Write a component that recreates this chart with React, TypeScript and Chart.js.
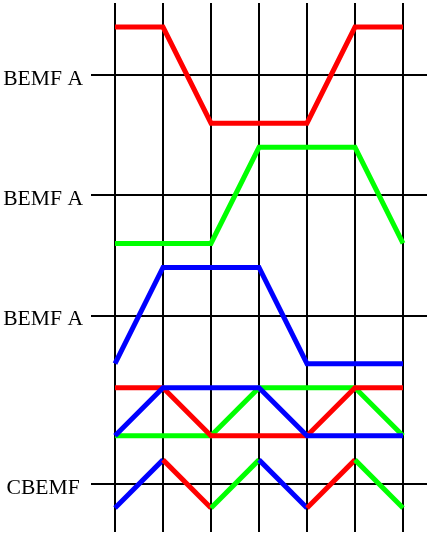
import React, { useEffect, useRef } from "react";
import { Chart, registerables } from "chart.js";

Chart.register(...registerables);

// Commutation steps (electrical sectors) along the horizontal axis
const STEPS = [0, 1, 2, 3, 4, 5, 6];

// Normalised back-EMF of each phase at every step (+1 high, -1 low)
const BEMF_RED = [1, 1, -1, -1, -1, 1, 1];
const BEMF_GREEN = [-1, -1, -1, 1, 1, 1, -1];
const BEMF_BLUE = [-1, 1, 1, 1, -1, -1, -1];

// Combined back-EMF zig-zag and the phase colour of each segment
const CBEMF = [-1, 1, -1, 1, -1, 1, -1];
const CBEMF_SEGMENT_COLORS = ["#0000ff", "#ff0000", "#00ff00", "#0000ff", "#ff0000", "#00ff00"];

// Row baselines and their labels
const ROW_BASES = [9.5, 7, 4.5, 1];
const ROW_LABELS = ["BEMF A", "BEMF A", "BEMF A", "CBEMF"];
const OVERLAY_BASE = 2.5;

const RED = "#ff0000";
const GREEN = "#00ff00";
const BLUE = "#0000ff";

function trace(values: number[], base: number, amp: number) {
  return STEPS.map((s, i) => ({ x: s, y: base + values[i] * amp }));
}

export default function App() {
  const ref = useRef<HTMLCanvasElement | null>(null);

  useEffect(() => {
    if (!ref.current) return;
    const lineStyle = {
      borderWidth: 5,
      pointRadius: 0,
      tension: 0,
      fill: false,
      borderJoinStyle: "miter" as const,
      borderCapStyle: "butt" as const,
    };
    const chart = new Chart(ref.current, {
      type: "line",
      data: {
        datasets: [
          { ...lineStyle, data: trace(BEMF_RED, ROW_BASES[0], 1), borderColor: RED, order: 1 },
          { ...lineStyle, data: trace(BEMF_GREEN, ROW_BASES[1], 1), borderColor: GREEN, order: 2 },
          { ...lineStyle, data: trace(BEMF_BLUE, ROW_BASES[2], 1), borderColor: BLUE, order: 0 },
          { ...lineStyle, data: trace(BEMF_RED, OVERLAY_BASE, 0.5), borderColor: RED, order: 1 },
          { ...lineStyle, data: trace(BEMF_GREEN, OVERLAY_BASE, 0.5), borderColor: GREEN, order: 2 },
          { ...lineStyle, data: trace(BEMF_BLUE, OVERLAY_BASE, 0.5), borderColor: BLUE, order: 0 },
          {
            ...lineStyle,
            data: trace(CBEMF, ROW_BASES[3], 0.5),
            borderColor: BLUE,
            segment: {
              borderColor: (ctx: any) => CBEMF_SEGMENT_COLORS[ctx.p0DataIndex],
            },
            order: 0,
          },
        ],
      },
      options: {
        responsive: false,
        animation: false,
        events: [],
        layout: { padding: { top: 3, right: 3, bottom: 1, left: 0 } },
        plugins: { legend: { display: false }, tooltip: { enabled: false } },
        scales: {
          x: {
            type: "linear",
            min: -0.5,
            max: 6.5,
            border: { display: false },
            grid: { color: "#000", lineWidth: 2, drawTicks: false },
            ticks: { display: false },
            afterBuildTicks: (axis: any) => {
              axis.ticks = STEPS.map((v) => ({ value: v }));
            },
            afterFit: (axis: any) => {
              axis.height = 0;
              axis.paddingLeft = 0;
              axis.paddingRight = 0;
            },
          },
          y: {
            type: "linear",
            min: 0,
            max: 11,
            border: { display: false },
            grid: { color: "#000", lineWidth: 2, drawTicks: false },
            ticks: {
              color: "#000",
              crossAlign: "center",
              padding: 8,
              labelOffset: 4,
              font: { family: "'Liberation Serif', 'Times New Roman', serif", size: 21.6 },
              callback: (v: any) => {
                const i = ROW_BASES.indexOf(Number(v));
                return i >= 0 ? ROW_LABELS[i] : "";
              },
            },
            afterBuildTicks: (axis: any) => {
              axis.ticks = ROW_BASES.map((v) => ({ value: v }));
            },
            afterFit: (axis: any) => {
              axis.width = 91;
              axis.paddingTop = 0;
              axis.paddingBottom = 0;
            },
          },
        },
      },
    });
    return () => chart.destroy();
  }, []);

  return (
    <div style={{ position: "fixed", left: 0, top: 0, width: 430, height: 533, background: "#fff" }}>
      <canvas ref={ref} width={430} height={533} />
    </div>
  );
}
